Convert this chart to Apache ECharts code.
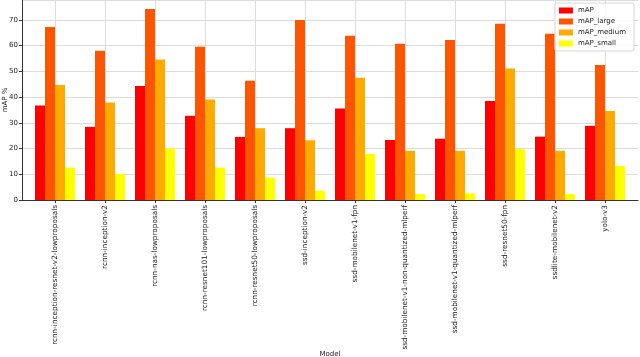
<!DOCTYPE html>
<html>
<head>
<meta charset="utf-8">
<script src="https://cdn.jsdelivr.net/npm/echarts@6/dist/echarts.min.js"></script>
<style>html,body{margin:0;padding:0;background:#fff;}#c{width:640px;height:357px;}</style>
</head>
<body>
<div id="c"></div>
<script>
var categories = [
  'rcnn-inception-resnet-v2-lowproposals',
  'rcnn-inception-v2',
  'rcnn-nas-lowproposals',
  'rcnn-resnet101-lowproposals',
  'rcnn-resnet50-lowproposals',
  'ssd-inception-v2',
  'ssd-mobilenet-v1-fpn',
  'ssd-mobilenet-v1-non-quantized-mlperf',
  'ssd-mobilenet-v1-quantized-mlperf',
  'ssd-resnet50-fpn',
  'ssdlite-mobilenet-v2',
  'yolo-v3'
];
var mAP        = [36.7, 28.4, 44.3, 32.7, 24.5, 27.9, 35.5, 23.3, 23.8, 38.5, 24.6, 28.8];
var mAP_large  = [67.2, 58.0, 74.2, 59.5, 46.3, 69.9, 63.8, 60.7, 62.2, 68.5, 64.6, 52.4];
var mAP_medium = [44.7, 37.9, 54.6, 39.0, 27.9, 23.2, 47.5, 19.1, 19.1, 51.1, 19.1, 34.6];
var mAP_small  = [12.6, 10.1, 20.0, 12.6, 8.7, 3.6, 17.9, 2.3, 2.6, 19.8, 2.3, 13.3];
var yTicks = [0, 10, 20, 30, 40, 50, 60, 70];

var seriesNames = ['mAP', 'mAP_large', 'mAP_medium', 'mAP_small'];
var seriesData = [mAP, mAP_large, mAP_medium, mAP_small];
var colors = ['#ff0000', '#ff5500', '#ffaa00', '#ffff00'];

var font = 'DejaVu Sans';
var YMAX = 77.7;
var gridTop = 0, gridBottom = 157;
var chart = echarts.init(document.getElementById('c'), null, {renderer: 'canvas'});
chart.setOption({
  animation: false,
  backgroundColor: '#fff',
  color: colors,
  textStyle: {fontFamily: font},
  grid: [
    {left: 22, right: 2, top: gridTop, bottom: gridBottom, outerBoundsMode: 'none'},
    {left: 30, width: 600, top: gridTop, bottom: gridBottom, outerBoundsMode: 'none'},
    {left: 55, width: 550, top: gridTop, bottom: gridBottom, outerBoundsMode: 'none'}
  ],
  legend: {
    right: 6, top: 3,
    orient: 'vertical',
    itemWidth: 14, itemHeight: 6, itemGap: 4,
    padding: [4, 8, 4, 4],
    backgroundColor: 'rgba(255,255,255,0.85)',
    borderColor: '#d8d8d8', borderWidth: 1, borderRadius: 2,
    icon: 'rect',
    textStyle: {fontSize: 7, color: '#222', fontFamily: font},
    data: seriesNames
  },
  xAxis: [
    {
      gridIndex: 0, type: 'value', min: 0, max: 1,
      axisLine: {show: true, onZero: false, lineStyle: {color: '#333', width: 1}},
      axisTick: {show: false}, axisLabel: {show: false}, splitLine: {show: false}
    },
    {
      gridIndex: 1, type: 'category', data: categories,
      axisLine: {show: false}, axisTick: {show: false}, axisLabel: {show: false}, splitLine: {show: false}
    },
    {
      gridIndex: 2, type: 'category', data: categories, boundaryGap: false,
      name: 'Model', nameLocation: 'middle', nameGap: 151, nameMoveOverlap: false,
      nameTextStyle: {fontSize: 7, color: '#222', fontFamily: font},
      axisLine: {show: false},
      axisTick: {show: true, length: 3, lineStyle: {color: '#333'}},
      axisLabel: {rotate: 90, fontSize: 7.3, color: '#222', margin: 5, fontFamily: font, interval: 0,
        overflow: 'none', width: 300, hideOverlap: false},
      splitLine: {show: true, lineStyle: {color: '#dcdcdc', width: 1}}
    }
  ],
  yAxis: [
    {
      gridIndex: 0, type: 'value', min: 0, max: YMAX, interval: 10,
      name: 'mAP %', nameLocation: 'middle', nameGap: 13, nameRotate: 90, nameMoveOverlap: false,
      nameTextStyle: {fontSize: 7, color: '#222', fontFamily: font},
      axisLine: {show: true, onZero: false, lineStyle: {color: '#333', width: 1}},
      axisTick: {show: true, length: 3, lineStyle: {color: '#333'}},
      axisLabel: {fontSize: 7, color: '#222', margin: 4, fontFamily: font, showMaxLabel: false,
        formatter: function (v) { return yTicks.indexOf(v) >= 0 ? String(v) : ''; }},
      splitLine: {show: true, lineStyle: {color: '#dcdcdc', width: 1}}
    },
    {
      gridIndex: 1, type: 'value', min: 0, max: YMAX,
      axisLine: {show: false}, axisTick: {show: false}, axisLabel: {show: false}, splitLine: {show: false}
    },
    {
      gridIndex: 2, type: 'value', min: 0, max: YMAX,
      axisLine: {show: false}, axisTick: {show: false}, axisLabel: {show: false}, splitLine: {show: false}
    }
  ],
  series: seriesNames.map(function (n, s) {
    return {
      name: n, type: 'bar', xAxisIndex: 1, yAxisIndex: 1,
      barWidth: 10, barGap: '0%',
      data: seriesData[s]
    };
  })
});
</script>
</body>
</html>
